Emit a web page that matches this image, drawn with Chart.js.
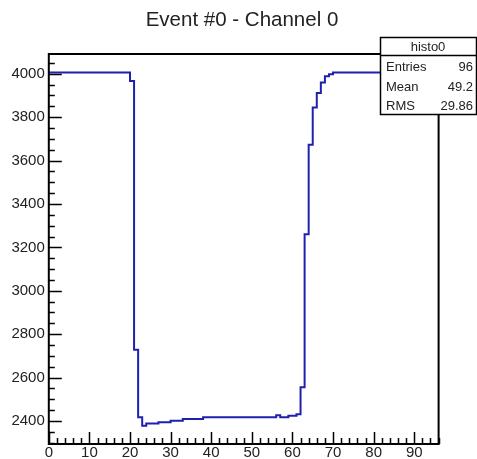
<!DOCTYPE html>
<html>
<head>
<meta charset="utf-8">
<script src="https://cdn.jsdelivr.net/npm/chart.js@4/dist/chart.umd.min.js"></script>
<style>
  html, body { margin: 0; padding: 0; background: #fff; }
  canvas { display: block; }
</style>
</head>
<body>
<canvas id="c" width="477" height="459"></canvas>
<script>
// Histogram "histo0": 96 unit-wide bins, one ADC sample per bin
const binLow = 0;
const binHigh = 96;
const binContents = [
  4006, 4006, 4006, 4006, 4006, 4006, 4006, 4006, 4006, 4006,
  4006, 4006, 4006, 4006, 4006, 4006, 4006, 4006, 4006, 4006,
  3967, 2728, 2417, 2378, 2388, 2388, 2388, 2394, 2394, 2394,
  2401, 2401, 2401, 2409, 2409, 2409, 2409, 2409, 2417, 2417,
  2417, 2417, 2417, 2417, 2417, 2417, 2417, 2417, 2417, 2417,
  2417, 2417, 2417, 2417, 2417, 2417, 2426, 2417, 2417, 2424,
  2424, 2431, 2556, 3260, 3673, 3845, 3911, 3960, 3988, 3998,
  4006, 4006, 4006, 4006, 4006, 4006, 4006, 4006, 4006, 4006,
  4006, 4006, 4006, 4006, 4006, 4006, 4006, 4006, 4006, 4006,
  4006, 4006, 4006, 4006, 4006, 4006
];

// Axis ranges and tick divisions
const yRange = [2294, 4091];
const xMajorStep = 10, xMinorStep = 2;
const yMajorStep = 200, yMinorStep = 50;

// Title and statistics box
const titleText = 'Event #0 - Channel 0';
const statsTitle = 'histo0';
const statNames = ['Entries', 'Mean', 'RMS'];
const statValues = ['96', '49.2', '29.86'];

const FONT = '"Liberation Sans", Arial, Helvetica, sans-serif';
const TEXT = '#222';

// Step outline: each bin's low edge, plus the last bin's high edge
const points = binContents.map((v, i) => ({ x: binLow + i, y: v }));
points.push({ x: binHigh, y: binContents[binContents.length - 1] });

// Frame, inward tick marks, title and stats box
const rootFrame = {
  id: 'rootFrame',
  afterDatasetsDraw(chart) {
    const { ctx, chartArea: a, scales: { x, y } } = chart;
    ctx.save();
    ctx.strokeStyle = '#000';
    ctx.lineWidth = 1.5;
    ctx.beginPath();
    x.ticks.forEach(t => {
      const px = Math.round(x.getPixelForValue(t.value)) + 0.5;
      const len = t.value % xMajorStep === 0 ? 12 : 6;
      ctx.moveTo(px, a.bottom);
      ctx.lineTo(px, a.bottom - len);
    });
    y.ticks.forEach(t => {
      const py = Math.round(y.getPixelForValue(t.value)) + 0.5;
      const len = t.value % yMajorStep === 0 ? 13 : 6;
      ctx.moveTo(a.left, py);
      ctx.lineTo(a.left + len, py);
    });
    ctx.stroke();
    ctx.lineWidth = 2;
    ctx.strokeRect(a.left, a.top, a.right - a.left, a.bottom - a.top);

    // title
    ctx.fillStyle = TEXT;
    ctx.font = '20.5px ' + FONT;
    ctx.textAlign = 'center';
    ctx.textBaseline = 'alphabetic';
    ctx.fillText(titleText, 242, 26);

    // stats box
    const bx = 380.5, by = 37.5, bw = 96, bh = 77;
    ctx.fillStyle = '#fff';
    ctx.fillRect(bx, by, bw, bh);
    ctx.lineWidth = 1.5;
    ctx.strokeStyle = '#000';
    ctx.strokeRect(bx, by, bw, bh);
    ctx.beginPath();
    ctx.moveTo(bx, 55.5);
    ctx.lineTo(bx + bw, 55.5);
    ctx.stroke();
    ctx.fillStyle = TEXT;
    ctx.font = '13px ' + FONT;
    ctx.textAlign = 'center';
    ctx.fillText(statsTitle, 428, 51);
    statNames.forEach((n, i) => {
      const base = 71 + i * 19.7;
      ctx.textAlign = 'left';
      ctx.fillText(n, 386, base);
      ctx.textAlign = 'right';
      ctx.fillText(statValues[i], 473, base);
    });
    ctx.restore();
  }
};

new Chart(document.getElementById('c'), {
  type: 'line',
  data: {
    datasets: [{
      data: points,
      // hold each bin's value across its full width
      stepped: 'before',
      borderColor: '#1f1fb0',
      borderWidth: 2,
      pointRadius: 0,
      fill: false,
      tension: 0
    }]
  },
  options: {
    responsive: false,
    animation: false,
    devicePixelRatio: 1,
    layout: { padding: { left: 0, top: 54, right: 38.4, bottom: 0 } },
    plugins: { legend: { display: false }, tooltip: { enabled: false }, title: { display: false } },
    scales: {
      x: {
        type: 'linear',
        min: binLow,
        max: binHigh,
        afterFit: s => { s.height = 15; },
        grid: { display: false, drawTicks: false },
        border: { display: false },
        ticks: {
          stepSize: xMinorStep,
          includeBounds: false,
          autoSkip: false,
          maxRotation: 0,
          padding: 1,
          color: TEXT,
          font: { family: FONT, size: 15, lineHeight: 1 },
          callback: v => (v % xMajorStep === 0 ? String(Math.round(v)) : '')
        }
      },
      y: {
        type: 'linear',
        min: yRange[0],
        max: yRange[1],
        afterFit: s => { s.width = 48.8; },
        grid: { display: false, drawTicks: false },
        border: { display: false },
        ticks: {
          stepSize: yMinorStep,
          includeBounds: false,
          autoSkip: false,
          padding: 4,
          color: TEXT,
          font: { family: FONT, size: 15 },
          callback: v => (Math.round(v) % yMajorStep === 0 ? String(Math.round(v)) : '')
        }
      }
    }
  },
  plugins: [rootFrame]
});
</script>
</body>
</html>
